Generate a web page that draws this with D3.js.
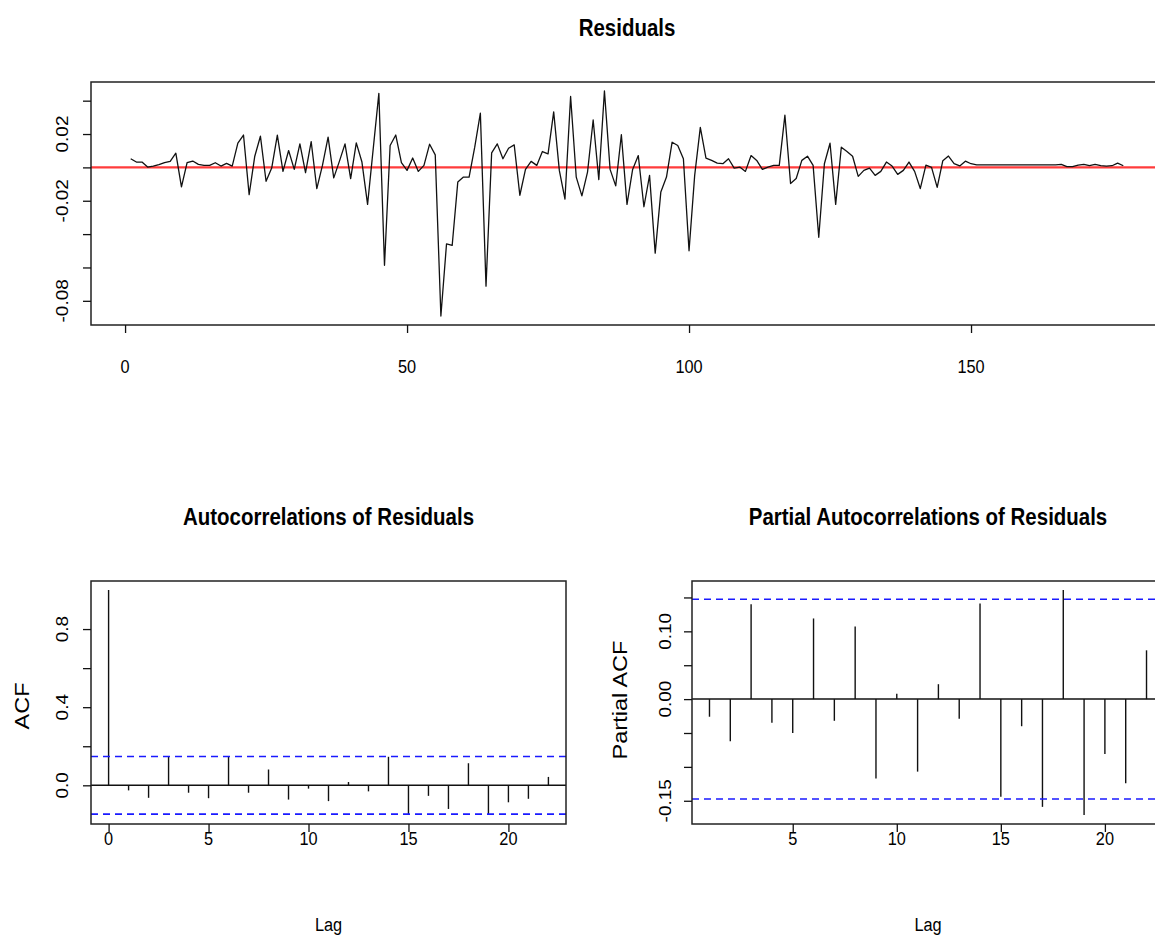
<!DOCTYPE html>
<html><head><meta charset="utf-8">
<script src="https://cdn.jsdelivr.net/npm/d3@7/dist/d3.min.js"></script>
<style>body{margin:0;background:#fff}svg{display:block}</style>
</head><body><svg id="c" width="1155" height="936"></svg>
<script>
// ---------------- data ----------------
const residuals = [
 0.0052, 0.0032, 0.0032, 0.0002, 0.0008, 0.0016, 0.0028, 0.0036, 0.0085,-0.0117,
 0.0028, 0.0038, 0.0018, 0.0012, 0.0012, 0.0028, 0.0008, 0.0024, 0.0008, 0.0145,
 0.0194,-0.0163, 0.0067, 0.0187,-0.0083,-0.0004, 0.0194,-0.0024, 0.0101,-0.0012,
 0.0141,-0.0032, 0.0155,-0.0127, 0.0012, 0.0181,-0.0063, 0.0036, 0.0141,-0.0067,
 0.0147, 0.0032,-0.0222, 0.0111, 0.0444,-0.0587, 0.0131, 0.0194, 0.0028,-0.0018,
 0.0056,-0.0024, 0.0012, 0.0139, 0.0075,-0.0891,-0.0458,-0.0468,-0.0087,-0.0058,
-0.0058, 0.0121, 0.0325,-0.0712, 0.0087, 0.0141, 0.0052, 0.0115, 0.0135,-0.0167,
-0.0012, 0.0036, 0.0012, 0.0095, 0.0081, 0.0333,-0.0018,-0.0190, 0.0425,-0.0058,
-0.0171,-0.0028, 0.0284,-0.0073, 0.0458,-0.0012,-0.0111, 0.0196,-0.0222,-0.0012,
 0.0071,-0.0236,-0.0048,-0.0514,-0.0147,-0.0058, 0.0151, 0.0131, 0.0052,-0.0500,
-0.0048, 0.0240, 0.0056, 0.0042, 0.0026, 0.0022, 0.0052,-0.0004, 0.0002,-0.0024,
 0.0071, 0.0042,-0.0012, 0.0002, 0.0012, 0.0012, 0.0313,-0.0097,-0.0067, 0.0042,
 0.0067, 0.0012,-0.0419, 0.0022, 0.0145,-0.0222, 0.0121, 0.0095, 0.0067,-0.0054,
-0.0018,-0.0004,-0.0048,-0.0024, 0.0032, 0.0008,-0.0042,-0.0018, 0.0032,-0.0024,
-0.0127, 0.0013, 0.0000,-0.0120, 0.0040, 0.0068, 0.0023, 0.0009, 0.0037, 0.0022,
 0.0015, 0.0015, 0.0015, 0.0015, 0.0015, 0.0015, 0.0015, 0.0015, 0.0015, 0.0015,
 0.0015, 0.0015, 0.0015, 0.0015, 0.0015, 0.0018, 0.0004, 0.0004, 0.0014, 0.0018,
 0.0010, 0.0018, 0.0010, 0.0008, 0.0010, 0.0026, 0.0010
];
const acfLags   = [0,1,2,3,4,5,6,7,8,9,10,11,12,13,14,15,16,17,18,19,20,21,22];
const acfValues = [1.000,-0.026,-0.064,0.146,-0.038,-0.066,0.146,-0.038,0.081,-0.073,-0.017,
                   -0.081,0.017,-0.031,0.146,-0.147,-0.054,-0.121,0.113,-0.152,-0.087,-0.069,0.043];
const pacfLags   = [1,2,3,4,5,6,7,8,9,10,11,12,13,14,15,16,17,18,19,20,21,22];
const pacfValues = [-0.026,-0.062,0.140,-0.035,-0.050,0.119,-0.032,0.107,-0.117,0.008,-0.107,
                    0.022,-0.029,0.141,-0.144,-0.040,-0.159,0.161,-0.171,-0.081,-0.124,0.072];

const residXTicks = [0,50,100,150];
const residYTicks = [-0.08,-0.06,-0.04,-0.02,0,0.02,0.04];
const residYTickLabels = ["-0.08","","","-0.02","","0.02",""];
const acfXTicks = [0,5,10,15,20];
const acfYTicks = [0,0.2,0.4,0.6,0.8];
const acfYTickLabels = ["0.0","","0.4","","0.8"];
const pacfXTicks = [5,10,15,20];
const pacfYTicks = [-0.15,-0.10,-0.05,0,0.05,0.10,0.15];
const pacfYTickLabels = ["-0.15","","","0.00","","0.10",""];

// ---------------- style ----------------
const SX = 0.86;            // horizontal text compression of the original image
const FONT = "'Liberation Sans', Arial, sans-serif";
const TICK_FS = 19, LAB_FS = 19, YLAB_FS = 23.5, TITLE_FS = 23.8;

const svg = d3.select("#c");
svg.append("rect").attr("width",1155).attr("height",936).attr("fill","#fff");

function padRange(lo, hi){ const r = hi - lo; return [lo - 0.04*r, hi + 0.04*r]; }

function text(x, y, s, opt={}){
  const rot = opt.rotate || 0;
  svg.append("text")
    .attr("transform", `translate(${x},${y}) scale(${SX},1)` + (rot ? ` rotate(${rot})` : ""))
    .attr("text-anchor","middle").attr("dominant-baseline","central")
    .attr("font-family", FONT).attr("font-size", opt.size || TICK_FS)
    .attr("font-weight", opt.bold ? "bold" : "normal")
    .attr("fill","#000").text(s);
}

function xAxis(x, box, ticks, labels, labelY){
  const g = svg.append("g").attr("transform",`translate(0,${box.bottom})`)
    .call(d3.axisBottom(x).tickValues(ticks).tickSize(8).tickFormat(""));
  g.select(".domain").remove();
  g.selectAll(".tick line").attr("stroke","#111").attr("stroke-width",1.3);
  ticks.forEach((t,i)=>{ if(labels[i]) text(x(t), labelY, labels[i]); });
}
function yAxis(y, box, ticks, labels, labelX){
  const g = svg.append("g").attr("transform",`translate(${box.left},0)`)
    .call(d3.axisLeft(y).tickValues(ticks).tickSize(8).tickFormat(""));
  g.select(".domain").remove();
  g.selectAll(".tick line").attr("stroke","#111").attr("stroke-width",1.3);
  ticks.forEach((t,i)=>{ if(labels[i]) text(labelX, y(t), labels[i], {rotate:-90}); });
}
function frame(box, id){
  svg.append("clipPath").attr("id",id).append("rect")
    .attr("x",box.left).attr("y",box.top).attr("width",box.right-box.left).attr("height",box.bottom-box.top);
  return svg.append("g").attr("clip-path",`url(#${id})`);
}
function boxRect(box){
  svg.append("rect").attr("x",box.left).attr("y",box.top)
    .attr("width",box.right-box.left).attr("height",box.bottom-box.top)
    .attr("fill","none").attr("stroke","#222").attr("stroke-width",1.5);
}

// ---------------- panel 1: residuals ----------------
{
  const box = {left:91, right:1163, top:82, bottom:325};
  const n = residuals.length;
  const x = d3.scaleLinear().domain(padRange(1, n)).range([box.left, box.right]);
  const y = d3.scaleLinear().domain(padRange(d3.min(residuals), d3.max(residuals))).range([box.bottom, box.top]);
  const g = frame(box, "clipR");
  g.append("line").attr("x1",box.left).attr("x2",box.right).attr("y1",y(0)).attr("y2",y(0))
    .attr("stroke","#ff3b3b").attr("stroke-width",2.2);
  g.append("path").datum(residuals)
    .attr("d", d3.line().x((d,i)=>x(i+1)).y(d=>y(d)))
    .attr("fill","none").attr("stroke","#111").attr("stroke-width",1.3).attr("stroke-linejoin","round");
  boxRect(box);
  xAxis(x, box, residXTicks, residXTicks.map(String), 367);
  yAxis(y, box, residYTicks, residYTickLabels, 62);
  text((box.left+box.right)/2, 28, "Residuals", {size:TITLE_FS, bold:true});
}

// ---------------- panel 2: ACF ----------------
const ci = 1.96/Math.sqrt(residuals.length);
{
  const box = {left:91, right:566, top:581, bottom:824};
  const x = d3.scaleLinear().domain(padRange(d3.min(acfLags), d3.max(acfLags))).range([box.left, box.right]);
  const y = d3.scaleLinear().domain(padRange(Math.min(d3.min(acfValues), -ci), 1)).range([box.bottom, box.top]);
  const g = frame(box, "clipA");
  g.append("line").attr("x1",box.left).attr("x2",box.right).attr("y1",y(0)).attr("y2",y(0))
    .attr("stroke","#111").attr("stroke-width",1.5);
  g.selectAll("line.bar").data(acfValues).join("line").attr("class","bar")
    .attr("x1",(d,i)=>x(acfLags[i])).attr("x2",(d,i)=>x(acfLags[i]))
    .attr("y1",y(0)).attr("y2",d=>y(d)).attr("stroke","#111").attr("stroke-width",1.4);
  [ci,-ci].forEach(c=>g.append("line").attr("x1",box.left).attr("x2",box.right)
    .attr("y1",y(c)).attr("y2",y(c)).attr("stroke","#1a1aff").attr("stroke-width",1.6)
    .attr("stroke-dasharray","7,5"));
  boxRect(box);
  xAxis(x, box, acfXTicks, acfXTicks.map(String), 839);
  yAxis(y, box, acfYTicks, acfYTickLabels, 62);
  text((box.left+box.right)/2, 517, "Autocorrelations of Residuals", {size:TITLE_FS, bold:true});
  text((box.left+box.right)/2, 925, "Lag", {size:LAB_FS});
  text(22, 706, "ACF", {size:YLAB_FS, rotate:-90});
}

// ---------------- panel 3: PACF ----------------
{
  const box = {left:692, right:1164, top:581, bottom:824};
  const x = d3.scaleLinear().domain(padRange(d3.min(pacfLags), d3.max(pacfLags))).range([box.left, box.right]);
  const y = d3.scaleLinear().domain(padRange(Math.min(d3.min(pacfValues), -ci), Math.max(d3.max(pacfValues), ci))).range([box.bottom, box.top]);
  const g = frame(box, "clipP");
  g.append("line").attr("x1",box.left).attr("x2",box.right).attr("y1",y(0)).attr("y2",y(0))
    .attr("stroke","#111").attr("stroke-width",1.5);
  g.selectAll("line.bar").data(pacfValues).join("line").attr("class","bar")
    .attr("x1",(d,i)=>x(pacfLags[i])).attr("x2",(d,i)=>x(pacfLags[i]))
    .attr("y1",y(0)).attr("y2",d=>y(d)).attr("stroke","#111").attr("stroke-width",1.4);
  [ci,-ci].forEach(c=>g.append("line").attr("x1",box.left).attr("x2",box.right)
    .attr("y1",y(c)).attr("y2",y(c)).attr("stroke","#1a1aff").attr("stroke-width",1.6)
    .attr("stroke-dasharray","7,5"));
  boxRect(box);
  xAxis(x, box, pacfXTicks, pacfXTicks.map(String), 839);
  yAxis(y, box, pacfYTicks, pacfYTickLabels, 665);
  text((box.left+box.right)/2, 517, "Partial Autocorrelations of Residuals", {size:TITLE_FS, bold:true});
  text((box.left+box.right)/2, 925, "Lag", {size:LAB_FS});
  text(620, 700, "Partial ACF", {size:YLAB_FS, rotate:-90});
}
</script></body></html>
